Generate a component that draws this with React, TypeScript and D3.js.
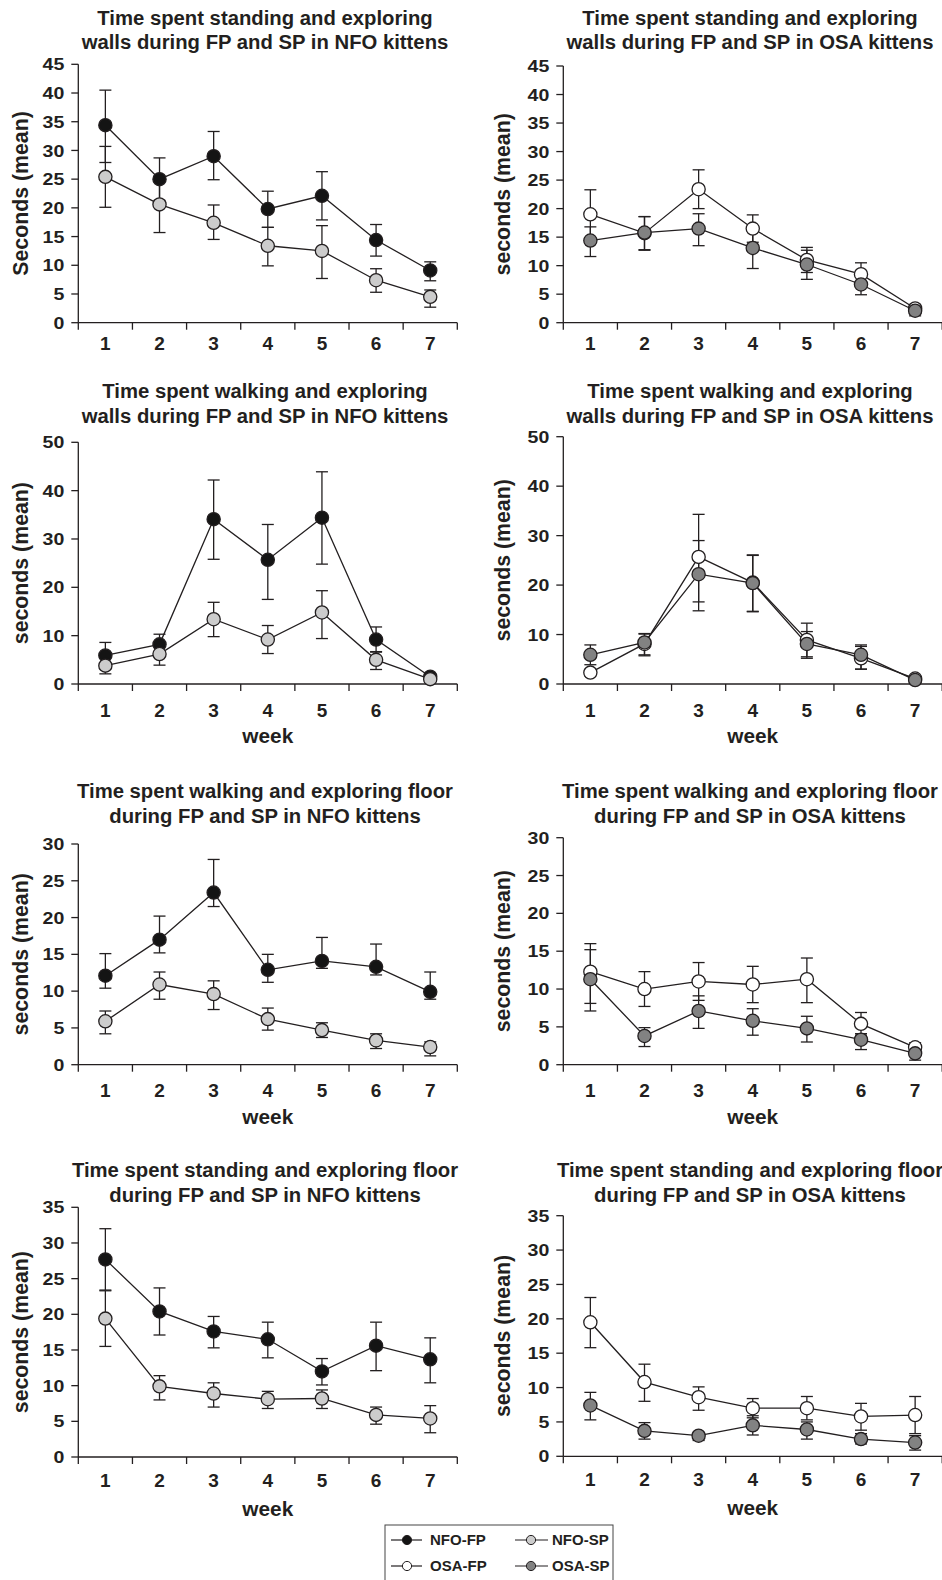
import * as d3 from "d3";

// weeks on the x axis
const weeks = [1, 2, 3, 4, 5, 6, 7];

// y axis tick labels
const ticks45 = [0, 5, 10, 15, 20, 25, 30, 35, 40, 45];
const ticks50 = [0, 10, 20, 30, 40, 50];
const ticks30 = [0, 5, 10, 15, 20, 25, 30];
const ticks35 = [0, 5, 10, 15, 20, 25, 30, 35];

// standing + exploring walls, NFO
const swNfoFP = [34.4, 25.0, 29.0, 19.8, 22.1, 14.4, 9.1];
const swNfoFPHi = [40.5, 28.7, 33.3, 22.9, 26.3, 17.1, 10.6];
const swNfoFPLo = [27.9, 21.3, 24.9, 16.6, 17.9, 11.6, 7.3];
const swNfoSP = [25.4, 20.6, 17.4, 13.4, 12.5, 7.4, 4.5];
const swNfoSPHi = [30.7, 25.5, 20.5, 16.6, 16.9, 9.4, 5.7];
const swNfoSPLo = [20.1, 15.7, 14.5, 9.9, 7.7, 5.3, 2.7];

// standing + exploring walls, OSA
const swOsaFP = [19.0, 15.7, 23.4, 16.5, 11.0, 8.5, 2.5];
const swOsaFPHi = [23.3, 18.6, 26.8, 18.9, 13.2, 10.5, 3.2];
const swOsaFPLo = [14.8, 12.8, 20.0, 14.1, 8.8, 6.5, 1.8];
const swOsaSP = [14.4, 15.8, 16.5, 13.1, 10.2, 6.7, 2.1];
const swOsaSPHi = [16.8, 18.6, 19.1, 16.0, 12.7, 8.5, 2.9];
const swOsaSPLo = [11.6, 12.7, 13.5, 9.5, 7.6, 4.9, 1.2];

// walking + exploring walls, NFO
const wwNfoFP = [5.9, 8.2, 34.1, 25.7, 34.4, 9.2, 1.5];
const wwNfoFPHi = [8.6, 10.3, 42.2, 33.0, 43.9, 11.8, 2.0];
const wwNfoFPLo = [3.2, 6.1, 25.8, 17.5, 24.8, 6.6, 1.0];
const wwNfoSP = [3.8, 6.2, 13.4, 9.2, 14.8, 5.0, 1.0];
const wwNfoSPHi = [5.5, 8.5, 16.9, 12.1, 19.3, 6.7, 1.4];
const wwNfoSPLo = [2.1, 3.9, 9.8, 6.3, 9.4, 3.0, 0.6];

// walking + exploring walls, OSA
const wwOsaFP = [2.3, 8.1, 25.7, 20.5, 8.9, 5.2, 1.1];
const wwOsaFPHi = [3.0, 10.2, 34.3, 26.1, 12.3, 7.6, 1.4];
const wwOsaFPLo = [1.6, 5.9, 16.6, 14.6, 5.5, 3.0, 0.8];
const wwOsaSP = [5.9, 8.4, 22.2, 20.4, 8.1, 5.9, 0.8];
const wwOsaSPHi = [7.9, 10.1, 29.0, 26.0, 10.6, 7.9, 1.1];
const wwOsaSPLo = [3.9, 5.7, 14.8, 14.7, 5.2, 3.0, 0.5];

// walking + exploring floor, NFO
const wfNfoFP = [12.1, 17.0, 23.4, 12.9, 14.1, 13.3, 9.9];
const wfNfoFPHi = [15.1, 20.2, 27.9, 15.0, 17.3, 16.4, 12.6];
const wfNfoFPLo = [10.4, 15.2, 21.5, 11.2, 13.1, 12.2, 8.9];
const wfNfoSP = [5.9, 10.9, 9.6, 6.2, 4.7, 3.3, 2.4];
const wfNfoSPHi = [7.3, 12.6, 11.4, 7.7, 5.7, 4.2, 3.1];
const wfNfoSPLo = [4.2, 8.9, 7.5, 4.7, 3.7, 2.2, 1.2];

// walking + exploring floor, OSA
const wfOsaFP = [12.3, 10.0, 11.0, 10.6, 11.3, 5.4, 2.3];
const wfOsaFPHi = [16.0, 12.3, 13.5, 13.0, 14.1, 6.9, 2.9];
const wfOsaFPLo = [8.1, 7.7, 8.5, 8.2, 8.2, 3.9, 1.6];
const wfOsaSP = [11.3, 3.8, 7.1, 5.8, 4.8, 3.3, 1.5];
const wfOsaSPHi = [15.2, 4.9, 9.1, 7.4, 6.4, 4.1, 2.2];
const wfOsaSPLo = [7.1, 2.4, 4.8, 3.9, 3.0, 2.0, 0.6];

// standing + exploring floor, NFO
const sfNfoFP = [27.7, 20.4, 17.6, 16.5, 12.0, 15.6, 13.7];
const sfNfoFPHi = [32.0, 23.7, 19.7, 18.9, 13.8, 18.9, 16.7];
const sfNfoFPLo = [23.4, 17.1, 15.3, 13.9, 10.1, 12.1, 10.4];
const sfNfoSP = [19.4, 9.9, 8.9, 8.1, 8.2, 5.9, 5.4];
const sfNfoSPHi = [23.3, 11.4, 10.4, 9.2, 9.4, 7.0, 7.2];
const sfNfoSPLo = [15.5, 8.0, 7.0, 6.8, 6.8, 4.6, 3.4];

// standing + exploring floor, OSA
const sfOsaFP = [19.5, 10.8, 8.6, 7.0, 7.0, 5.8, 6.0];
const sfOsaFPHi = [23.1, 13.4, 10.1, 8.4, 8.7, 7.7, 8.7];
const sfOsaFPLo = [15.8, 8.0, 6.7, 5.6, 5.3, 3.8, 3.3];
const sfOsaSP = [7.4, 3.7, 3.0, 4.5, 3.9, 2.5, 2.0];
const sfOsaSPHi = [9.3, 4.9, 3.5, 5.9, 5.0, 3.3, 3.0];
const sfOsaSPLo = [5.3, 2.5, 2.3, 3.1, 2.5, 1.8, 0.9];

const legendNames = ["NFO-FP", "NFO-SP", "OSA-FP", "OSA-SP"];

const INK = "#231f20";
const FONT = "'Liberation Sans', Arial, Helvetica, sans-serif";
const FILLS: Record<string, string> = {
  "NFO-FP": "#141414",
  "NFO-SP": "#cccccc",
  "OSA-FP": "#ffffff",
  "OSA-SP": "#828282",
};

interface Series {
  name: string;
  mean: number[];
  hi: number[];
  lo: number[];
}

interface PanelProps {
  title: [string, string];
  yLabel: string;
  yTicks: number[];
  series: Series[];
  left: number;
  right: number;
  top: number;
  bottom: number;
  titleX: number;
  titleY: [number, number];
  labelX: number;
  tickDy: number;
  showWeek: boolean;
}

function Panel(p: PanelProps) {
  const x = d3.scaleBand<number>().domain(weeks).range([p.left, p.right]).padding(0);
  const cx = (w: number) => (x(w) || 0) + x.bandwidth() / 2;
  const yMax = p.yTicks[p.yTicks.length - 1];
  const y = d3.scaleLinear().domain([0, yMax]).range([p.bottom, p.top]);

  const line = d3
    .line<number>()
    .x((_, i) => cx(weeks[i]))
    .y((d) => y(d));

  const boundaries = [...weeks.map((w) => x(w) || 0), p.right];
  const midX = (p.left + p.right) / 2;
  const midY = (p.top + p.bottom) / 2;

  return (
    <g fontFamily={FONT} fontWeight="bold" fill={INK}>
      {/* Title */}
      <text x={p.titleX} y={p.titleY[0]} textAnchor="middle" fontSize={20.3}>
        {p.title[0]}
      </text>
      <text x={p.titleX} y={p.titleY[1]} textAnchor="middle" fontSize={20.3}>
        {p.title[1]}
      </text>

      {/* Y label */}
      <text
        transform={`translate(${p.labelX},${midY}) rotate(-90)`}
        textAnchor="middle"
        fontSize={21.3}
      >
        {p.yLabel}
      </text>

      {/* Y axis */}
      <line x1={p.left} x2={p.left} y1={p.top} y2={p.bottom} stroke={INK} strokeWidth={1.3} />
      {p.yTicks.map((t) => (
        <g key={t}>
          <line x1={p.left - 7} x2={p.left} y1={y(t)} y2={y(t)} stroke={INK} strokeWidth={1.3} />
          <text
            transform={`translate(${p.left - 14},${y(t)}) scale(1.15,1)`}
            dy="0.36em"
            textAnchor="end"
            fontSize={17}
          >
            {t}
          </text>
        </g>
      ))}

      {/* X axis */}
      <line x1={p.left} x2={p.right} y1={p.bottom} y2={p.bottom} stroke={INK} strokeWidth={1.3} />
      {boundaries.map((bx, i) => (
        <line key={i} x1={bx} x2={bx} y1={p.bottom} y2={p.bottom + 7} stroke={INK} strokeWidth={1.3} />
      ))}
      {weeks.map((w) => (
        <text key={w} x={cx(w)} y={p.bottom + p.tickDy} textAnchor="middle" fontSize={19}>
          {w}
        </text>
      ))}
      {p.showWeek && (
        <text x={midX} y={p.bottom + 59} textAnchor="middle" fontSize={20.8}>
          week
        </text>
      )}

      {/* Error bars */}
      {p.series.map((s) => (
        <g key={s.name + "-err"} stroke={INK} strokeWidth={1.3}>
          {weeks.map((w, i) => (
            <g key={w}>
              <line x1={cx(w)} x2={cx(w)} y1={y(s.hi[i])} y2={y(s.lo[i])} />
              <line x1={cx(w) - 6} x2={cx(w) + 6} y1={y(s.hi[i])} y2={y(s.hi[i])} />
              <line x1={cx(w) - 6} x2={cx(w) + 6} y1={y(s.lo[i])} y2={y(s.lo[i])} />
            </g>
          ))}
        </g>
      ))}

      {/* Lines */}
      {p.series.map((s) => (
        <path key={s.name + "-line"} d={line(s.mean) || ""} fill="none" stroke={INK} strokeWidth={1.3} />
      ))}

      {/* Markers */}
      {p.series.map((s) => (
        <g key={s.name + "-dots"}>
          {weeks.map((w, i) => (
            <circle
              key={w}
              cx={cx(w)}
              cy={y(s.mean[i])}
              r={6.6}
              fill={FILLS[s.name]}
              stroke={INK}
              strokeWidth={1.3}
            />
          ))}
        </g>
      ))}
    </g>
  );
}

function Legend() {
  const cols = [
    { line: [391, 422], dot: 407, text: 430 },
    { line: [515, 548], dot: 531, text: 552 },
  ];
  const rows = [1540, 1566];
  return (
    <g fontFamily={FONT} fontWeight="bold" fill={INK}>
      <rect x={385} y={1525} width={228} height={60} fill="#fff" stroke="#444" strokeWidth={1} />
      {legendNames.map((name, i) => {
        const c = cols[i % 2];
        const ry = rows[Math.floor(i / 2)];
        return (
          <g key={name}>
            <line x1={c.line[0]} x2={c.line[1]} y1={ry} y2={ry} stroke={INK} strokeWidth={1.2} />
            <circle cx={c.dot} cy={ry} r={4.6} fill={FILLS[name]} stroke={INK} strokeWidth={1} />
            <text x={c.text} y={ry} dy="0.36em" fontSize={15}>
              {name}
            </text>
          </g>
        );
      })}
    </g>
  );
}

const LEFT = { left: 78.3, right: 457.3, titleX: 265, labelX: 28 };
const RIGHT = { left: 563.3, right: 942.2, titleX: 750, labelX: 510 };

export default function App() {
  return (
    <div style={{ position: "absolute", left: 0, top: 0, width: 942, height: 1580, background: "#fff" }}>
      <svg width={942} height={1580} viewBox="0 0 942 1580" style={{ display: "block" }}>
        <rect width={942} height={1580} fill="#fff" />
        <Panel
          {...LEFT}
          top={64.3}
          bottom={322.7}
          tickDy={27.5}
          titleY={[25, 49]}
          title={["Time spent standing and exploring", "walls during FP and SP in NFO kittens"]}
          yLabel="Seconds (mean)"
          yTicks={ticks45}
          showWeek={false}
          series={[
            { name: "NFO-FP", mean: swNfoFP, hi: swNfoFPHi, lo: swNfoFPLo },
            { name: "NFO-SP", mean: swNfoSP, hi: swNfoSPHi, lo: swNfoSPLo },
          ]}
        />
        <Panel
          {...RIGHT}
          top={66}
          bottom={322.7}
          tickDy={27.5}
          titleY={[25, 49]}
          title={["Time spent standing and exploring", "walls during FP and SP in OSA kittens"]}
          yLabel="seconds (mean)"
          yTicks={ticks45}
          showWeek={false}
          series={[
            { name: "OSA-FP", mean: swOsaFP, hi: swOsaFPHi, lo: swOsaFPLo },
            { name: "OSA-SP", mean: swOsaSP, hi: swOsaSPHi, lo: swOsaSPLo },
          ]}
        />
        <Panel
          {...LEFT}
          top={442.3}
          bottom={684}
          tickDy={32.5}
          titleY={[398, 423]}
          title={["Time spent walking and exploring", "walls during FP and SP in NFO kittens"]}
          yLabel="seconds (mean)"
          yTicks={ticks50}
          showWeek={true}
          series={[
            { name: "NFO-FP", mean: wwNfoFP, hi: wwNfoFPHi, lo: wwNfoFPLo },
            { name: "NFO-SP", mean: wwNfoSP, hi: wwNfoSPHi, lo: wwNfoSPLo },
          ]}
        />
        <Panel
          {...RIGHT}
          top={436.7}
          bottom={684}
          tickDy={32.5}
          titleY={[398, 423]}
          title={["Time spent walking and exploring", "walls during FP and SP in OSA kittens"]}
          yLabel="seconds (mean)"
          yTicks={ticks50}
          showWeek={true}
          series={[
            { name: "OSA-FP", mean: wwOsaFP, hi: wwOsaFPHi, lo: wwOsaFPLo },
            { name: "OSA-SP", mean: wwOsaSP, hi: wwOsaSPHi, lo: wwOsaSPLo },
          ]}
        />
        <Panel
          {...LEFT}
          top={844}
          bottom={1064.7}
          tickDy={32}
          titleY={[798, 823]}
          title={["Time spent walking and exploring floor", "during FP and SP in NFO kittens"]}
          yLabel="seconds (mean)"
          yTicks={ticks30}
          showWeek={true}
          series={[
            { name: "NFO-FP", mean: wfNfoFP, hi: wfNfoFPHi, lo: wfNfoFPLo },
            { name: "NFO-SP", mean: wfNfoSP, hi: wfNfoSPHi, lo: wfNfoSPLo },
          ]}
        />
        <Panel
          {...RIGHT}
          top={837.7}
          bottom={1064.7}
          tickDy={32}
          titleY={[798, 823]}
          title={["Time spent walking and exploring floor", "during FP and SP in OSA kittens"]}
          yLabel="seconds (mean)"
          yTicks={ticks30}
          showWeek={true}
          series={[
            { name: "OSA-FP", mean: wfOsaFP, hi: wfOsaFPHi, lo: wfOsaFPLo },
            { name: "OSA-SP", mean: wfOsaSP, hi: wfOsaSPHi, lo: wfOsaSPLo },
          ]}
        />
        <Panel
          {...LEFT}
          top={1207.3}
          bottom={1457}
          tickDy={30}
          titleY={[1177, 1202]}
          title={["Time spent standing and exploring floor", "during FP and SP in NFO kittens"]}
          yLabel="seconds (mean)"
          yTicks={ticks35}
          showWeek={true}
          series={[
            { name: "NFO-FP", mean: sfNfoFP, hi: sfNfoFPHi, lo: sfNfoFPLo },
            { name: "NFO-SP", mean: sfNfoSP, hi: sfNfoSPHi, lo: sfNfoSPLo },
          ]}
        />
        <Panel
          {...RIGHT}
          top={1215.7}
          bottom={1456.3}
          tickDy={30}
          titleY={[1177, 1202]}
          title={["Time spent standing and exploring floor", "during FP and SP in OSA kittens"]}
          yLabel="seconds (mean)"
          yTicks={ticks35}
          showWeek={true}
          series={[
            { name: "OSA-FP", mean: sfOsaFP, hi: sfOsaFPHi, lo: sfOsaFPLo },
            { name: "OSA-SP", mean: sfOsaSP, hi: sfOsaSPHi, lo: sfOsaSPLo },
          ]}
        />
        <Legend />
      </svg>
    </div>
  );
}
